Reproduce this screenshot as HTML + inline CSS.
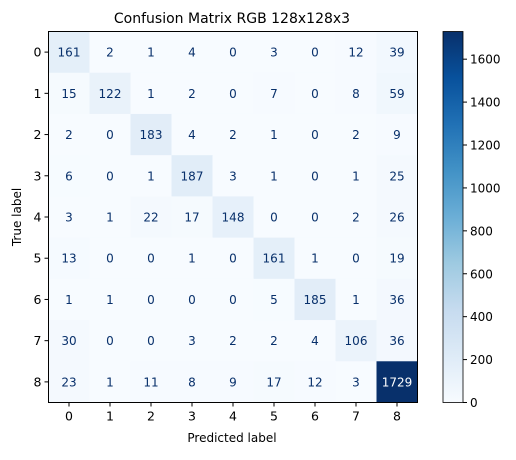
<!DOCTYPE html>
<html><head><meta charset="utf-8"><style>
body{margin:0;background:#fff;}
svg{font-family:"DejaVu Sans","Liberation Sans",sans-serif;}
</style></head><body>
<svg id="chart" width="516" height="455" viewBox="0 0 516 455" xmlns="http://www.w3.org/2000/svg">
<text x="232" y="23" font-size="14" text-anchor="middle">Confusion Matrix RGB 128x128x3</text>
<g id="cells"></g>
<g id="ticks"></g>
<rect x="48.5" y="31.5" width="369" height="371" fill="none" stroke="#000" stroke-width="1"/>
<text x="232" y="442" font-size="12" text-anchor="middle">Predicted label</text>
<text transform="translate(21,217) rotate(-90)" font-size="12" text-anchor="middle">True label</text>
<defs><linearGradient id="cbg" x1="0" y1="1" x2="0" y2="0">
<stop offset="0" stop-color="#f7fbff"/><stop offset="0.125" stop-color="#deebf7"/><stop offset="0.25" stop-color="#c6dbef"/><stop offset="0.375" stop-color="#9ecae1"/><stop offset="0.5" stop-color="#6baed6"/><stop offset="0.625" stop-color="#4292c6"/><stop offset="0.75" stop-color="#2171b5"/><stop offset="0.875" stop-color="#08519c"/><stop offset="1" stop-color="#08306b"/>
</linearGradient></defs>
<rect x="443" y="31.5" width="20" height="371" fill="url(#cbg)" stroke="#000" stroke-width="0.8"/>
<g id="cbticks"></g>
</svg>
<script>
const classes=["0","1","2","3","4","5","6","7","8"];
const matrix=[
[161,2,1,4,0,3,0,12,39],
[15,122,1,2,0,7,0,8,59],
[2,0,183,4,2,1,0,2,9],
[6,0,1,187,3,1,0,1,25],
[3,1,22,17,148,0,0,2,26],
[13,0,0,1,0,161,1,0,19],
[1,1,0,0,0,5,185,1,36],
[30,0,0,3,2,2,4,106,36],
[23,1,11,8,9,17,12,3,1729]];
const cbTicks=[0,200,400,600,800,1000,1200,1400,1600];
const NS="http://www.w3.org/2000/svg";
const L=48.5,T=31.5,W=369,H=371,n=classes.length,cw=W/n,ch=H/n;
let vmax=0;matrix.forEach(r=>r.forEach(v=>{if(v>vmax)vmax=v;}));
const stops=["#f7fbff","#deebf7","#c6dbef","#9ecae1","#6baed6","#4292c6","#2171b5","#08519c","#08306b"].map(h=>[1,3,5].map(i=>parseInt(h.substr(i,2),16)));
function color(t){t=Math.max(0,Math.min(1,t))*8;const i=Math.min(7,Math.floor(t)),f=t-i;const c=stops[i].map((a,k)=>Math.round(a+(stops[i+1][k]-a)*f));return`rgb(${c})`;}
function xs(j){return L+cw*(j+0.5);} function ys(i){return T+ch*(i+0.5);}
const cells=document.getElementById('cells');
matrix.forEach((row,i)=>row.forEach((v,j)=>{
const r=document.createElementNS(NS,'rect');
r.setAttribute('x',L+cw*j);r.setAttribute('y',T+ch*i);r.setAttribute('width',cw+0.5);r.setAttribute('height',ch+0.5);r.setAttribute('fill',color(v/vmax));


cells.appendChild(r);
const t=document.createElementNS(NS,'text');
t.setAttribute('x',xs(j));t.setAttribute('y',ys(i)+4.5);t.setAttribute('font-size','12');t.setAttribute('text-anchor','middle');
t.setAttribute('fill',v>vmax/2?'#fff':'#08306b');t.textContent=v;


cells.appendChild(t);
}));
const tk=document.getElementById('ticks');
classes.forEach((c,k)=>{
let l=document.createElementNS(NS,'line');l.setAttribute('x1',xs(k));l.setAttribute('x2',xs(k));l.setAttribute('y1',T+H);l.setAttribute('y2',T+H+4);l.setAttribute('stroke','#000');tk.appendChild(l);
let t=document.createElementNS(NS,'text');t.setAttribute('x',xs(k));t.setAttribute('y',T+H+18);t.setAttribute('font-size','12.5');t.setAttribute('text-anchor','middle');t.textContent=c;


tk.appendChild(t);
l=document.createElementNS(NS,'line');l.setAttribute('x1',L-4);l.setAttribute('x2',L);l.setAttribute('y1',ys(k));l.setAttribute('y2',ys(k));l.setAttribute('stroke','#000');tk.appendChild(l);
t=document.createElementNS(NS,'text');t.setAttribute('x',L-7);t.setAttribute('y',ys(k)+4.5);t.setAttribute('font-size','12.5');t.setAttribute('text-anchor','end');t.textContent=c;


tk.appendChild(t);
});
const cb=document.getElementById('cbticks');
cbTicks.forEach(v=>{
const y=T+H-H*v/vmax;
const l=document.createElementNS(NS,'line');l.setAttribute('x1',463);l.setAttribute('x2',467);l.setAttribute('y1',y);l.setAttribute('y2',y);l.setAttribute('stroke','#000');cb.appendChild(l);
const t=document.createElementNS(NS,'text');t.setAttribute('x',470);t.setAttribute('y',y+4.5);t.setAttribute('font-size','12');t.textContent=v;


cb.appendChild(t);
});
</script>
</body></html>
